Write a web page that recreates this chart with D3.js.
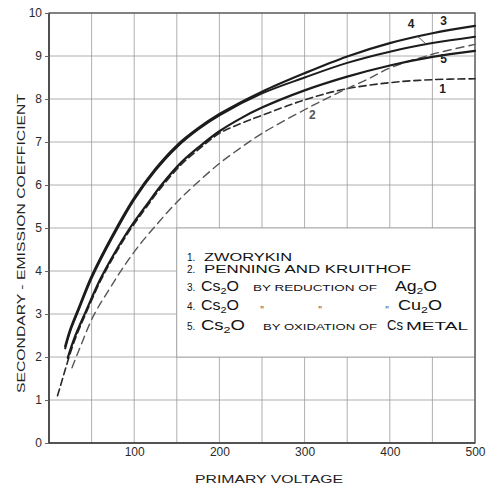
<!DOCTYPE html>
<html>
<head>
<meta charset="utf-8">
<script src="https://cdn.jsdelivr.net/npm/d3@7"></script>
<style>
  body { margin: 0; background: #fff; }
  svg { display: block; font-family: "Liberation Sans", Arial, sans-serif; }
</style>
</head>
<body>
<svg id="chart"></svg>
<script>
// ---- data ----
const voltageTicks = [100, 200, 300, 400, 500];
const coeffTicks = [0, 1, 2, 3, 4, 5, 6, 7, 8, 9, 10];
const gridVoltages = [0, 50, 100, 150, 200, 250, 300, 350, 400, 450, 500];

// [primary voltage, secondary-emission coefficient]
const zworykin = [[10,1.1],[16,1.5],[22,1.9],[30,2.38],[43,3.0],[60,3.75],[75,4.3],[95,4.95],[115,5.5],[132,5.95],[155,6.47],[177,6.85],[200,7.2],[225,7.43],[250,7.62],[300,7.98],[345,8.22],[400,8.38],[450,8.45],[500,8.47]];
const penning = [[27,1.75],[35,2.15],[52,2.95],[70,3.55],[86,4.05],[104,4.55],[125,5.05],[150,5.6],[171,6.0],[200,6.5],[226,6.88],[250,7.2],[300,7.75],[340,8.15],[375,8.47],[400,8.72],[450,9.04],[500,9.27]];
const reductionAg2O = [[19,2.25],[25,2.65],[35,3.15],[50,3.88],[75,4.85],[100,5.7],[125,6.38],[150,6.92],[175,7.32],[200,7.65],[250,8.17],[300,8.6],[350,8.99],[400,9.3],[450,9.53],[500,9.7]];
const reductionCu2O = [[19,2.2],[25,2.6],[35,3.1],[50,3.83],[75,4.8],[100,5.66],[125,6.34],[150,6.88],[175,7.29],[200,7.62],[250,8.13],[300,8.5],[350,8.84],[400,9.1],[450,9.3],[500,9.45]];
const oxidationCs = [[22,1.98],[30,2.45],[43,3.05],[60,3.8],[75,4.35],[95,5.0],[115,5.55],[132,6.0],[155,6.52],[177,6.9],[200,7.25],[225,7.55],[250,7.8],[300,8.2],[350,8.52],[400,8.78],[450,8.98],[500,9.12]];

const curveNumbers = ['1', '2', '3', '4', '5'];
const legendItems = [
  ['ZWORYKIN'],
  ['PENNING AND KRUITHOF'],
  ['Cs₂O', 'BY REDUCTION OF', 'Ag₂O'],
  ['Cs₂O', '"', '"', '"', 'Cu₂O'],
  ['Cs₂O', 'BY OXIDATION OF', 'Cs', 'METAL']
];

// ---- layout ----
const W = 490, H = 488;
const x = d3.scaleLinear().domain([0, 500]).range([49, 475]);
const y = d3.scaleLinear().domain([0, 10]).range([443, 13]);

const svg = d3.select('#chart').attr('width', W).attr('height', H);

// grid
const grid = svg.append('g').attr('stroke', '#9a9a9a').attr('stroke-width', 0.8);
grid.selectAll('line.gv')
  .data(gridVoltages)
  .join('line')
    .attr('class', 'gv')
    .attr('x1', d => x(d)).attr('x2', d => x(d))
    .attr('y1', y(0)).attr('y2', y(10));
grid.selectAll('line.gh')
  .data(coeffTicks)
  .join('line')
    .attr('class', 'gh')
    .attr('x1', x(0)).attr('x2', x(500))
    .attr('y1', d => y(d)).attr('y2', d => y(d));

// white legend panel covering the grid
svg.append('rect')
  .attr('x', x(150)).attr('y', y(5))
  .attr('width', x(500) - x(150)).attr('height', y(2) - y(5))
  .attr('fill', '#fff').attr('stroke', '#9a9a9a').attr('stroke-width', 0.8);

// frame
svg.append('rect')
  .attr('x', x(0)).attr('y', y(10))
  .attr('width', x(500) - x(0)).attr('height', y(0) - y(10))
  .attr('fill', 'none').attr('stroke', '#555').attr('stroke-width', 1.3);
svg.append('path')
  .attr('d', `M${x(0)},${y(10)}V${y(0)}H${x(500)}`)
  .attr('fill', 'none').attr('stroke', '#444').attr('stroke-width', 1.6);

// axes
svg.append('g')
    .attr('transform', `translate(${x(0)},0)`)
    .call(d3.axisLeft(y).tickValues(coeffTicks).tickSize(4).tickPadding(3).tickFormat(d3.format('d')))
    .call(g => g.select('.domain').remove())
    .call(g => g.selectAll('line').attr('stroke', '#666'))
    .attr('font-size', 12).attr('font-family', 'Liberation Sans, Arial, sans-serif')
    .selectAll('text').attr('fill', '#2a2a2a');

svg.append('g')
    .attr('transform', `translate(0,${y(0)})`)
    .call(d3.axisBottom(x).tickValues(voltageTicks).tickSize(0).tickPadding(4))
    .call(g => g.select('.domain').remove())
    .attr('font-size', 12).attr('font-family', 'Liberation Sans, Arial, sans-serif')
    .selectAll('text').attr('fill', '#2a2a2a');

// axis titles
svg.append('text')
  .attr('x', 195).attr('y', 483)
  .attr('font-size', 11.5).attr('fill', '#222')
  .attr('textLength', 148).attr('lengthAdjust', 'spacingAndGlyphs')
  .text('PRIMARY  VOLTAGE');

svg.append('text')
  .attr('transform', 'translate(25,393) rotate(-90)')
  .attr('font-size', 11).attr('fill', '#222')
  .attr('textLength', 299).attr('lengthAdjust', 'spacingAndGlyphs')
  .text('SECONDARY - EMISSION  COEFFICIENT');

// curves
const series = [
  {data: zworykin,      dash: '7,4', width: 1.6, color: '#2a2a2a'},
  {data: penning,       dash: '8,5', width: 1.4, color: '#555'},
  {data: reductionAg2O, dash: null,  width: 2.2, color: '#1c1c1c'},
  {data: reductionCu2O, dash: null,  width: 2.0, color: '#1c1c1c'},
  {data: oxidationCs,   dash: null,  width: 2.2, color: '#1c1c1c'}
];

const line = d3.line()
    .x(d => x(d[0]))
    .y(d => y(d[1]))
    .curve(d3.curveCatmullRom.alpha(0.5));

svg.append('g')
  .selectAll('path')
  .data(series)
  .join('path')
    .attr('d', d => line(d.data))
    .attr('fill', 'none')
    .attr('stroke', d => d.color)
    .attr('stroke-width', d => d.width)
    .attr('stroke-dasharray', d => d.dash)
    .attr('stroke-linecap', 'round');

// curve numbers (voltage, coefficient of the baseline)
const labelAt = [[462, 8.14], [309, 7.53], [463, 9.72], [425, 9.66], [463, 8.83]];
svg.append('g')
  .selectAll('text')
  .data(curveNumbers)
  .join('text')
    .attr('x', (d, i) => x(labelAt[i][0]))
    .attr('y', (d, i) => y(labelAt[i][1]))
    .attr('text-anchor', 'middle')
    .attr('font-size', 12).attr('font-weight', 'bold')
    .attr('fill', (d, i) => i === 1 ? '#555' : '#222')
    .text(d => d);

svg.append('line')
  .attr('x1', x(432)).attr('y1', y(9.47))
  .attr('x2', x(443)).attr('y2', y(9.27))
  .attr('stroke', '#444').attr('stroke-width', 0.9);

// legend
const baselines = [261, 273, 291, 310, 330];
// left edge and width of every piece of each legend line
const pieceBox = [
  [[204, 88]],
  [[204, 207]],
  [[201, 38], [253, 124], [395, 42]],
  [[201, 38], [262, 0], [320, 0], [387, 0], [398, 44]],
  [[201, 44], [263, 114], [387, 16], [406, 62]]
];

const legend = svg.append('g').attr('fill', '#111');

legendItems.forEach((pieces, i) => {
  const base = baselines[i];
  legend.append('text')
    .attr('x', 187).attr('y', base)
    .attr('font-size', 10)
    .text(curveNumbers[i] + '.');

  pieces.forEach((p, j) => {
    const [px, pw] = pieceBox[i][j];
    const t = legend.append('text').attr('y', base);
    if (p === '"') {
      t.attr('x', px).attr('y', base + 4).attr('text-anchor', 'middle')
        .attr('font-size', 10).attr('fill', '#555').text(p);
    } else if (/[a-z]/.test(p)) {
      // chemical formula: large letters with a small subscript
      t.attr('x', px).attr('font-size', 14)
        .attr('textLength', pw).attr('lengthAdjust', 'spacingAndGlyphs');
      const parts = p.split('₂');
      t.append('tspan').text(parts[0]);
      if (parts.length > 1) {
        t.append('tspan').attr('font-size', 9.5).attr('dy', 3).text('2');
        t.append('tspan').attr('dy', -3).text(parts[1]);
      }
    } else {
      const small = p.startsWith('BY');
      t.attr('x', px).attr('font-size', small ? 8.5 : 10)
        .attr('textLength', pw).attr('lengthAdjust', 'spacingAndGlyphs')
        .text(p);
    }
  });
});
</script>
</body>
</html>
